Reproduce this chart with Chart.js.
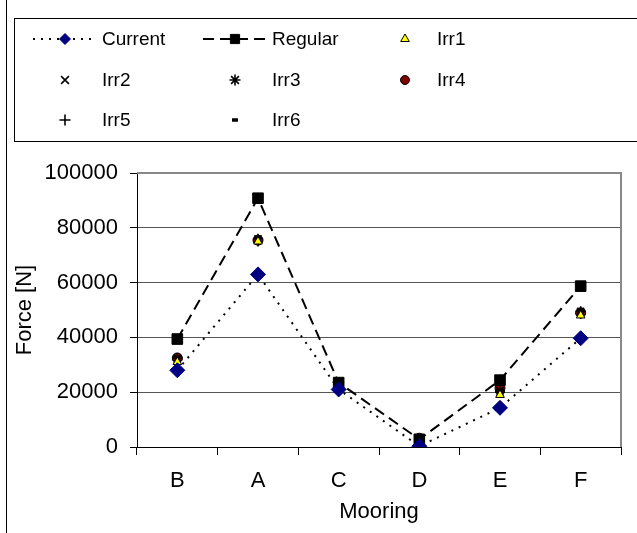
<!DOCTYPE html>
<html>
<head>
<meta charset="utf-8">
<script src="https://cdn.jsdelivr.net/npm/chart.js@4.4.0/dist/chart.umd.min.js"></script>
<style>
  html, body { margin: 0; padding: 0; background: #fff; }
  #wrap { position: relative; width: 637px; height: 533px; }
  #edge { position: absolute; left: 6px; top: 0; width: 1px; height: 533px; background: #000; }
</style>
</head>
<body>
<div id="wrap">
  <canvas id="chart" width="637" height="533"></canvas>
  <div id="edge"></div>
</div>
<script>
// values
const moorings = ['B', 'A', 'C', 'D', 'E', 'F'];
const seriesNames = ['Current', 'Regular', 'Irr1', 'Irr2', 'Irr3', 'Irr4', 'Irr5', 'Irr6'];
const current = [28000, 63000, 21000, 300, 14300, 39700];
const regular = [39400, 90800, 23500, 2800, 24400, 58700];
const irr1 = [31000, 75000, 22500, 800, 19000, 48000];
const irr2 = [32000, 75500, 23000, 1800, 20000, 49000];
const irr3 = [32500, 76000, 23200, 2000, 20500, 49500];
const irr4 = [32500, 75500, 23500, 3200, 21500, 49000];
const irr5 = [32000, 75000, 23000, 2000, 20000, 48500];
const irr6 = [32000, 75500, 23000, 2000, 20200, 49000];
const yTicks = [0, 20000, 40000, 60000, 80000, 100000];

const FONT = 'Liberation Sans, Arial, Helvetica, sans-serif';
Chart.defaults.font.family = FONT;
Chart.defaults.color = '#000';

function irrSet(name, data, style, fill, opts) {
    return Object.assign({
        label: name,
        data: data,
        showLine: false,
        pointStyle: style,
        pointRadius: 5,
        pointHoverRadius: 5,
        pointBackgroundColor: fill || '#000',
        pointBorderColor: '#000',
        pointBorderWidth: 1,
        borderColor: '#000',
        backgroundColor: fill || '#000',
        legendRadius: 5,
        legendBorder: 1
    }, opts || {});
}

const datasets = [
    {
        label: seriesNames[0],
        data: current,
        borderColor: '#000',
        borderWidth: 2,
        borderDash: [2, 6],
        pointStyle: 'rectRot',
        pointRadius: 7.5,
        pointHoverRadius: 7.5,
        pointBackgroundColor: '#000080',
        pointBorderColor: '#000080',
        backgroundColor: '#000080',
        pointBorderWidth: 1,
        legendRadius: 5.5,
        legendBorder: 1
    },
    {
        label: seriesNames[1],
        data: regular,
        borderColor: '#000',
        borderWidth: 2,
        borderDash: [11, 6],
        pointStyle: 'rect',
        pointRadius: 7.5,
        pointHoverRadius: 7.5,
        pointBackgroundColor: '#000',
        pointBorderColor: '#000',
        backgroundColor: '#000',
        pointBorderWidth: 1,
        legendRadius: 6.5,
        legendBorder: 1
    },
    irrSet(seriesNames[2], irr1, 'triangle', '#ffff00', { legendRadius: 5 }),
    irrSet(seriesNames[3], irr2, 'crossRot', null, { pointBorderWidth: 1.6, legendRadius: 5.5, legendBorder: 1.6 }),
    irrSet(seriesNames[4], irr3, 'star', null, { pointBorderWidth: 1.6, legendRadius: 5.5, legendBorder: 1.6 }),
    irrSet(seriesNames[5], irr4, 'circle', '#800000', { legendRadius: 4.5 }),
    irrSet(seriesNames[6], irr5, 'cross', null, { pointBorderWidth: 1.6, legendRadius: 5.5, legendBorder: 1.6 }),
    irrSet(seriesNames[7], irr6, 'line', null, { pointBorderWidth: 3, legendRadius: 3, legendBorder: 3.5 })
];

// legend grid (3 columns), drawn into the top of the canvas
const legendCols = [
    { lineStart: 33, lineEnd: 96, marker: 65, text: 102 },
    { lineStart: 203, lineEnd: 270, marker: 235, text: 272 },
    { lineStart: null, lineEnd: null, marker: 405, text: 437 }
];
const legendRows = [39, 80, 120];

const framePlugin = {
    id: 'frame',
    afterDraw(chart) {
        const ctx = chart.ctx;
        const a = chart.chartArea;
        ctx.save();
        // grey plot frame on top and right
        ctx.strokeStyle = '#888';
        ctx.lineWidth = 2;
        ctx.setLineDash([]);
        ctx.beginPath();
        ctx.moveTo(a.left, a.top);
        ctx.lineTo(a.right, a.top);
        ctx.lineTo(a.right, a.bottom);
        ctx.stroke();

        // legend box
        ctx.strokeStyle = '#000';
        ctx.lineWidth = 1;
        ctx.strokeRect(14.5, 18.5, 700, 123);

        chart.data.datasets.forEach((ds, i) => {
            const col = legendCols[i % 3];
            const y = legendRows[Math.floor(i / 3)];
            if (ds.showLine !== false && col.lineStart !== null) {
                ctx.strokeStyle = ds.borderColor;
                ctx.lineWidth = 2;
                ctx.setLineDash(ds.borderDash || []);
                ctx.beginPath();
                ctx.moveTo(col.lineStart, y);
                ctx.lineTo(col.lineEnd, y);
                ctx.stroke();
            }
            ctx.setLineDash([]);
            ctx.fillStyle = ds.pointBackgroundColor;
            ctx.strokeStyle = ds.pointBorderColor;
            ctx.lineWidth = ds.legendBorder;
            Chart.helpers.drawPoint(ctx, {
                pointStyle: ds.pointStyle,
                radius: ds.legendRadius,
                rotation: 0,
                borderWidth: ds.legendBorder
            }, col.marker, y);

            ctx.fillStyle = '#000';
            ctx.font = '19px ' + FONT;
            ctx.textBaseline = 'middle';
            ctx.textAlign = 'left';
            ctx.fillText(ds.label, col.text, y + 1);
        });
        ctx.restore();
    }
};

new Chart(document.getElementById('chart'), {
    type: 'line',
    data: { labels: moorings, datasets: datasets },
    options: {
        responsive: false,
        animation: false,
        events: [],
        layout: { padding: { top: 173, right: 16, bottom: 0, left: 0 } },
        plugins: { legend: { display: false }, tooltip: { enabled: false } },
        scales: {
            x: {
                offset: true,
                grid: { offset: true, drawOnChartArea: false, tickLength: 8, color: '#000', tickColor: '#000' },
                border: { color: '#000', width: 1 },
                ticks: { font: { size: 22 }, padding: 13, color: '#000' },
                title: { display: true, text: 'Mooring', font: { size: 22 }, padding: { top: 0, bottom: 8 }, color: '#000' },
                afterFit(scale) { scale.height = 86; }
            },
            y: {
                min: 0,
                max: 100000,
                afterBuildTicks(scale) { scale.ticks = yTicks.map(v => ({ value: v })); },
                grid: {
                    color: ctx => (ctx.tick && ctx.tick.value === 100000 ? '#888' : '#555'),
                    tickColor: '#000',
                    tickLength: 7,
                    lineWidth: 1
                },
                border: { color: '#000', width: 1 },
                ticks: { font: { size: 22 }, padding: 12, color: '#000', callback: v => String(v) },
                title: { display: true, text: 'Force [N]', font: { size: 22 }, padding: { top: 12, bottom: 0 }, color: '#000' },
                afterFit(scale) { scale.width = 137; }
            }
        }
    },
    plugins: [framePlugin]
});
</script>
</body>
</html>
